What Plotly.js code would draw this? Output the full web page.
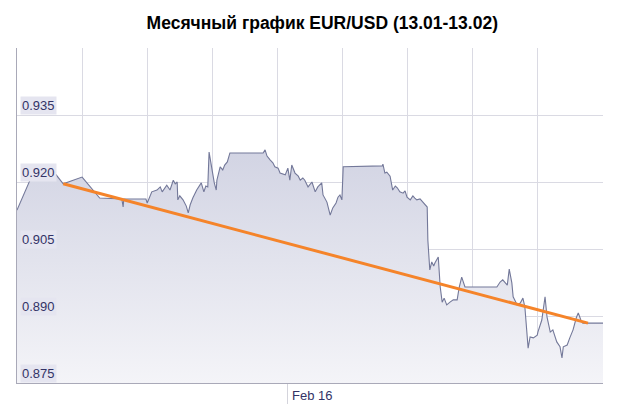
<!DOCTYPE html>
<html>
<head>
<meta charset="utf-8">
<script src="https://cdn.plot.ly/plotly-3.0.1.min.js"></script>
<style>html,body{margin:0;padding:0;background:#fff;}#chart{width:621px;height:407px;}</style>
</head>
<body>
<div id="chart"></div>
<script>
// time position (in grid-interval units across the month) and EUR/USD rate
const timePos = [0,0.28,0.58,0.71,1.00,1.27,1.61,1.63,1.64,1.98,2.00,2.07,2.15,2.20,2.23,2.27,2.30,2.35,2.40,2.43,2.46,2.47,2.50,2.55,2.60,2.63,2.66,2.70,2.76,2.83,2.87,2.90,2.93,2.95,2.98,3.00,3.03,3.06,3.07,3.12,3.16,3.19,3.23,3.27,3.78,3.81,3.84,3.89,3.93,3.96,4.01,4.04,4.09,4.12,4.16,4.19,4.22,4.27,4.32,4.35,4.39,4.42,4.47,4.53,4.58,4.62,4.68,4.70,4.76,4.81,4.85,4.90,4.93,4.96,4.99,5.01,5.61,5.62,5.65,5.68,5.73,5.77,5.81,5.84,5.88,5.93,5.96,5.99,6.04,6.08,6.11,6.14,6.19,6.24,6.27,6.30,6.31,6.34,6.37,6.40,6.42,6.47,6.50,6.53,6.56,6.60,6.65,6.70,6.76,6.79,6.83,6.88,7.37,7.42,7.46,7.53,7.56,7.60,7.62,7.68,7.73,7.77,7.80,7.83,7.85,7.88,7.93,7.99,8.00,8.06,8.08,8.11,8.14,8.19,8.23,8.29,8.34,8.37,8.39,8.45,8.49,8.54,8.59,8.62,8.66,8.69,9.00];
const rate = [0.9137,0.9231,0.9220,0.9196,0.9211,0.9164,0.9162,0.9144,0.9162,0.9162,0.9153,0.9178,0.9182,0.9189,0.9178,0.9187,0.9193,0.9182,0.9204,0.9196,0.9200,0.9160,0.9169,0.9160,0.9146,0.9131,0.9149,0.9164,0.9182,0.9198,0.9178,0.9191,0.9189,0.9267,0.9238,0.9220,0.9198,0.9182,0.9204,0.9234,0.9227,0.9238,0.9245,0.9265,0.9265,0.9272,0.9258,0.9249,0.9243,0.9234,0.9231,0.9220,0.9218,0.9216,0.9231,0.9204,0.9238,0.9220,0.9213,0.9204,0.9209,0.9204,0.9189,0.9200,0.9178,0.9189,0.9198,0.9171,0.9155,0.9126,0.9142,0.9153,0.9166,0.9171,0.9160,0.9234,0.9236,0.9240,0.9220,0.9222,0.9213,0.9182,0.9191,0.9187,0.9178,0.9175,0.9180,0.9166,0.9160,0.9169,0.9164,0.9160,0.9162,0.9153,0.9149,0.9144,0.9070,0.9003,0.9021,0.9012,0.9019,0.9032,0.8965,0.8931,0.8940,0.8925,0.8931,0.8936,0.8936,0.8963,0.8987,0.8965,0.8965,0.8976,0.8981,0.8969,0.9005,0.8974,0.8943,0.8925,0.8929,0.8940,0.8920,0.8864,0.8828,0.8853,0.8851,0.8857,0.8864,0.8891,0.8913,0.8943,0.8898,0.8864,0.8869,0.8842,0.8831,0.8806,0.8831,0.8835,0.8851,0.8869,0.8896,0.8907,0.8891,0.8884,0.8884];
// trend line end points
const trendPos = [0.71, 8.77];
const trendRate = [0.9196, 0.8884];
// axis ticks
const yTickVals = [0.875, 0.890, 0.905, 0.920, 0.935];
const yTickText = ["0.875", "0.890", "0.905", "0.920", "0.935"];
const xTickVals = [4.147];
const xTickText = ["Feb 16"];

const labelFont = {family: "Liberation Sans, Arial, sans-serif", size: 13, color: "#333366"};

const traces = [
  {
    x: timePos, y: rate, type: "scatter", mode: "lines",
    line: {color: "#737899", width: 1.1},
    fill: "tozeroy",
    fillgradient: {type: "vertical", start: 0.875, stop: 0.93,
      colorscale: [[0, "#f4f4f8"], [1, "#d0d2e2"]]},
    hoverinfo: "skip"
  },
  {
    x: trendPos, y: trendRate, type: "scatter", mode: "lines",
    line: {color: "#f5842a", width: 3}, hoverinfo: "skip"
  },
  {
    x: xTickVals, y: [null], xaxis: "x2", type: "scatter", mode: "markers", hoverinfo: "skip", showlegend: false
  }
];

const annotations = yTickVals.map((v, i) => ({
  x: 0, xref: "paper", xanchor: "left", xshift: 3,
  y: v, yref: "y", yanchor: "bottom",
  text: yTickText[i], showarrow: false,
  font: labelFont, bgcolor: "#e5e5f0", borderpad: 1
}));
xTickVals.forEach((v, i) => annotations.push({
  x: v, xref: "x", xanchor: "left", xshift: 3,
  y: 0, yref: "paper", yanchor: "top", yshift: -3,
  text: xTickText[i], showarrow: false, font: labelFont
}));

const layout = {
  width: 621, height: 407,
  margin: {l: 17, r: 18, t: 48, b: 24},
  paper_bgcolor: "#ffffff", plot_bgcolor: "#ffffff",
  showlegend: false,
  title: {text: "Месячный график EUR/USD (13.01-13.02)",
    font: {family: "Liberation Sans, Arial, sans-serif", size: 17.5, color: "#000000", weight: "bold"},
    x: 0.519, xanchor: "center", y: 0.943, yanchor: "middle"},
  xaxis: {range: [0, 9], tick0: 0, dtick: 1, showgrid: true, gridcolor: "#dadae3",
    zeroline: false, showticklabels: false, ticks: "",
    showline: true, linecolor: "#a9a9b8", linewidth: 1, mirror: false, fixedrange: true},
  xaxis2: {range: [0, 9], overlaying: "x", anchor: "y", side: "bottom",
    tickvals: xTickVals, ticktext: [""], ticks: "outside", ticklen: 20, tickcolor: "#d4d4dc",
    showgrid: false, zeroline: false, showline: false, showticklabels: false},
  yaxis: {range: [0.875, 0.95], tickvals: yTickVals, showgrid: true, gridcolor: "#dadae3",
    zeroline: false, showticklabels: false, ticks: "",
    showline: true, linecolor: "#a9a9b8", linewidth: 1, fixedrange: true},
  annotations: annotations
};

Plotly.newPlot("chart", traces, layout, {staticPlot: true, displayModeBar: false});
</script>
</body>
</html>
